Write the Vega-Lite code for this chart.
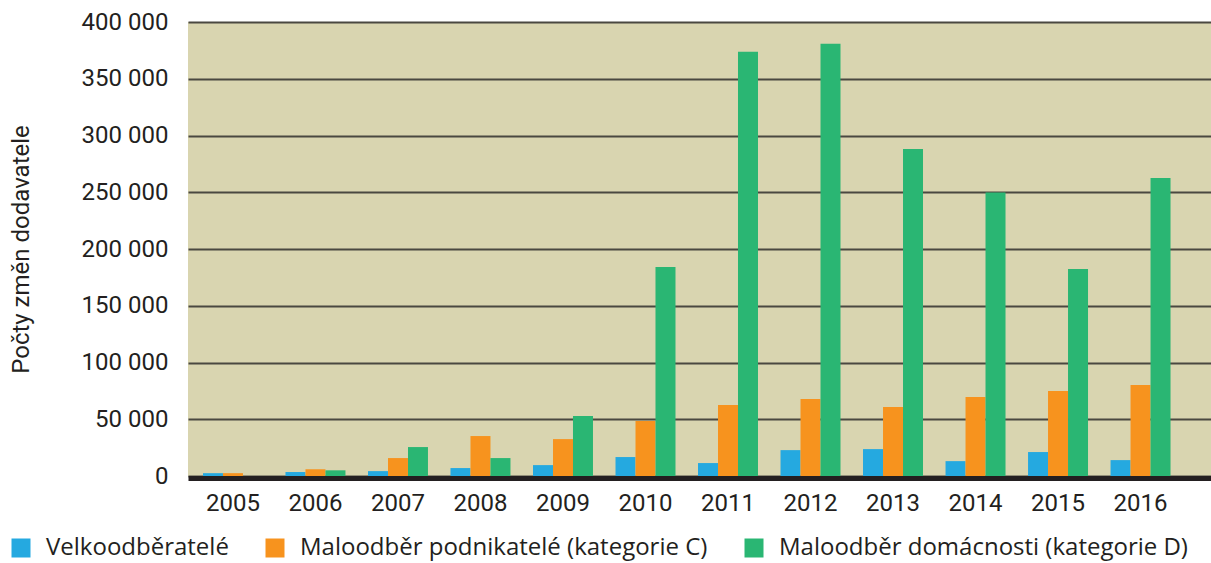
{
  "$schema": "https://vega.github.io/schema/vega-lite/v6.json",
  "autosize": {"type": "none"},
  "padding": {"left": 188, "top": 22, "right": 0, "bottom": 87},
  "width": 1023,
  "height": 454,
  "background": "#ffffff",
  "config": {
    "view": {"fill": "#d9d5b0", "stroke": null},
    "font": "Roboto",
    "axis": {"labelFont": "Roboto", "titleFont": "Roboto", "labelColor": "#231f20", "titleColor": "#231f20"},
    "legend": {"labelFont": "Open Sans"}
  },
  "data": {
    "values": [
      {"rok": "2005", "kategorie": "Velkoodběratelé", "pocet": 2500},
      {"rok": "2005", "kategorie": "Maloodběr podnikatelé (kategorie C)", "pocet": 2500},
      {"rok": "2005", "kategorie": "Maloodběr domácnosti (kategorie D)", "pocet": 0},
      {"rok": "2006", "kategorie": "Velkoodběratelé", "pocet": 3500},
      {"rok": "2006", "kategorie": "Maloodběr podnikatelé (kategorie C)", "pocet": 6000},
      {"rok": "2006", "kategorie": "Maloodběr domácnosti (kategorie D)", "pocet": 5000},
      {"rok": "2007", "kategorie": "Velkoodběratelé", "pocet": 4300},
      {"rok": "2007", "kategorie": "Maloodběr podnikatelé (kategorie C)", "pocet": 15800},
      {"rok": "2007", "kategorie": "Maloodběr domácnosti (kategorie D)", "pocet": 25500},
      {"rok": "2008", "kategorie": "Velkoodběratelé", "pocet": 7000},
      {"rok": "2008", "kategorie": "Maloodběr podnikatelé (kategorie C)", "pocet": 35200},
      {"rok": "2008", "kategorie": "Maloodběr domácnosti (kategorie D)", "pocet": 15800},
      {"rok": "2009", "kategorie": "Velkoodběratelé", "pocet": 9600},
      {"rok": "2009", "kategorie": "Maloodběr podnikatelé (kategorie C)", "pocet": 32500},
      {"rok": "2009", "kategorie": "Maloodběr domácnosti (kategorie D)", "pocet": 52800},
      {"rok": "2010", "kategorie": "Velkoodběratelé", "pocet": 16700},
      {"rok": "2010", "kategorie": "Maloodběr podnikatelé (kategorie C)", "pocet": 48400},
      {"rok": "2010", "kategorie": "Maloodběr domácnosti (kategorie D)", "pocet": 184100},
      {"rok": "2011", "kategorie": "Velkoodběratelé", "pocet": 11400},
      {"rok": "2011", "kategorie": "Maloodběr podnikatelé (kategorie C)", "pocet": 62500},
      {"rok": "2011", "kategorie": "Maloodběr domácnosti (kategorie D)", "pocet": 373700},
      {"rok": "2012", "kategorie": "Velkoodběratelé", "pocet": 22800},
      {"rok": "2012", "kategorie": "Maloodběr podnikatelé (kategorie C)", "pocet": 67800},
      {"rok": "2012", "kategorie": "Maloodběr domácnosti (kategorie D)", "pocet": 380800},
      {"rok": "2013", "kategorie": "Velkoodběratelé", "pocet": 23700},
      {"rok": "2013", "kategorie": "Maloodběr podnikatelé (kategorie C)", "pocet": 60800},
      {"rok": "2013", "kategorie": "Maloodběr domácnosti (kategorie D)", "pocet": 288200},
      {"rok": "2014", "kategorie": "Velkoodběratelé", "pocet": 13100},
      {"rok": "2014", "kategorie": "Maloodběr podnikatelé (kategorie C)", "pocet": 69600},
      {"rok": "2014", "kategorie": "Maloodběr domácnosti (kategorie D)", "pocet": 249700},
      {"rok": "2015", "kategorie": "Velkoodběratelé", "pocet": 21100},
      {"rok": "2015", "kategorie": "Maloodběr podnikatelé (kategorie C)", "pocet": 74900},
      {"rok": "2015", "kategorie": "Maloodběr domácnosti (kategorie D)", "pocet": 182400},
      {"rok": "2016", "kategorie": "Velkoodběratelé", "pocet": 14000},
      {"rok": "2016", "kategorie": "Maloodběr podnikatelé (kategorie C)", "pocet": 80200},
      {"rok": "2016", "kategorie": "Maloodběr domácnosti (kategorie D)", "pocet": 262600}
    ]
  },
  "mark": {"type": "bar"},
  "encoding": {
    "x": {
      "field": "rok",
      "type": "nominal",
      "scale": {"paddingInner": 0.273, "paddingOuter": 0.336, "align": 0.27},
      "axis": {
        "title": null,
        "labelAngle": 0,
        "labelFontSize": 24,
        "labelPadding": 13,
        "ticks": false,
        "domain": true,
        "domainColor": "#231f20",
        "domainWidth": 5,
        "offset": 2,
        "grid": false
      }
    },
    "xOffset": {
      "field": "kategorie",
      "type": "nominal",
      "sort": ["Velkoodběratelé", "Maloodběr podnikatelé (kategorie C)", "Maloodběr domácnosti (kategorie D)"],
      "scale": {"paddingInner": 0, "paddingOuter": 0}
    },
    "y": {
      "field": "pocet",
      "type": "quantitative",
      "scale": {"domain": [0, 400000], "nice": false},
      "axis": {
        "title": "Počty změn dodavatele",
        "titleFontSize": 24,
        "titleFontWeight": "normal",
        "titlePadding": 48,
        "values": [0, 50000, 100000, 150000, 200000, 250000, 300000, 350000, 400000],
        "labelExpr": "replace(format(datum.value, ','), ',', ' ')",
        "labelFontSize": 24,
        "labelPadding": 20,
        "ticks": false,
        "domain": false,
        "grid": true,
        "gridColor": "#4a4840",
        "gridWidth": 2
      }
    },
    "color": {
      "field": "kategorie",
      "type": "nominal",
      "sort": ["Velkoodběratelé", "Maloodběr podnikatelé (kategorie C)", "Maloodběr domácnosti (kategorie D)"],
      "scale": {
        "domain": ["Velkoodběratelé", "Maloodběr podnikatelé (kategorie C)", "Maloodběr domácnosti (kategorie D)"],
        "range": ["#25a9e0", "#f7931e", "#2ab673"]
      },
      "legend": {
        "title": null,
        "orient": "none",
        "direction": "horizontal",
        "legendX": -179,
        "legendY": 514,
        "symbolType": "square",
        "symbolSize": 361,
        "symbolStrokeWidth": 0,
        "symbolOpacity": 1,
        "labelFontSize": 24,
        "labelColor": "#231f20",
        "labelOffset": 13,
        "columnPadding": 34,
        "labelLimit": 600
      }
    }
  }
}
